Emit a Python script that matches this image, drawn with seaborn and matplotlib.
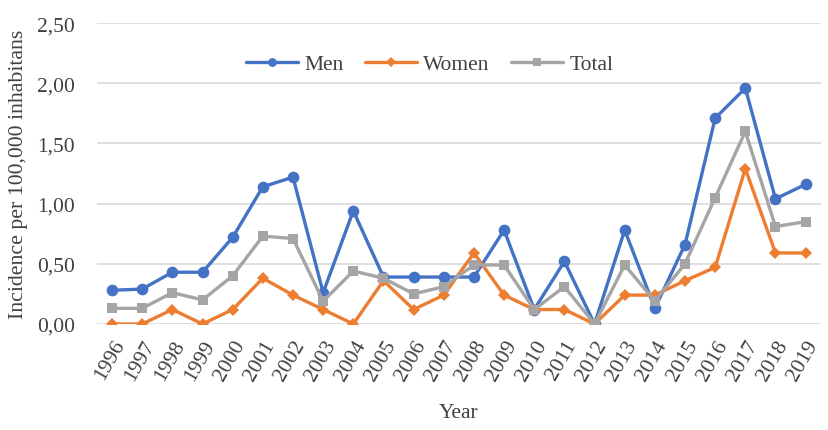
import matplotlib
matplotlib.use("Agg")
from matplotlib import pyplot as plt
from matplotlib.ticker import FuncFormatter
import pandas as pd
import seaborn as sns

years = list(range(1996, 2020))
men = [0.28, 0.29, 0.43, 0.43, 0.72, 1.14, 1.22, 0.26, 0.94, 0.39, 0.39, 0.39,
       0.39, 0.78, 0.12, 0.52, 0.00, 0.78, 0.13, 0.66, 1.71, 1.96, 1.04, 1.16]
women = [0.00, 0.00, 0.12, 0.00, 0.12, 0.38, 0.24, 0.12, 0.00, 0.36, 0.12, 0.24,
         0.59, 0.24, 0.12, 0.12, 0.00, 0.24, 0.24, 0.36, 0.47, 1.29, 0.59, 0.59]
total = [0.13, 0.13, 0.26, 0.20, 0.40, 0.73, 0.71, 0.19, 0.44, 0.38, 0.25, 0.31,
         0.49, 0.49, 0.12, 0.31, 0.00, 0.49, 0.19, 0.50, 1.05, 1.60, 0.81, 0.85]

series = ["Men", "Women", "Total"]
colors = {"Men": "#4472C4", "Women": "#ED7D31", "Total": "#A5A5A5"}
markers = {"Men": "o", "Women": "D", "Total": "s"}
msizes = {"Men": 8.4, "Women": 6.5, "Total": 7.2}

df = pd.DataFrame({"Year": years, "Men": men, "Women": women, "Total": total})
long_df = df.melt(id_vars="Year", var_name="Group", value_name="Incidence")

sns.set_theme(style="white")
plt.rcParams["font.family"] = ["Liberation Serif", "DejaVu Serif"]
text_col = "#404040"

fig = plt.figure(figsize=(8.29, 4.31), dpi=100)
ax = fig.add_axes([0.117, 0.246, 0.873, 0.698])

for name in series:
    sns.lineplot(data=long_df[long_df["Group"] == name], x="Year", y="Incidence",
                 ax=ax, color=colors[name], marker=markers[name],
                 markersize=msizes[name], markeredgewidth=0, linewidth=2.4,
                 label=name)

ax.set_ylim(0, 2.5)
ax.set_yticks([0, 0.5, 1.0, 1.5, 2.0, 2.5])
ax.yaxis.set_major_formatter(FuncFormatter(lambda v, p: f"{v:.2f}".replace(".", ",")))
ax.set_xlim(1995.5, 2019.5)
ax.set_xticks(years)
ax.set_xticklabels([str(y) for y in years], rotation=60, ha="right",
                   rotation_mode="anchor")
ax.yaxis.grid(True, color="#D9D9D9", linewidth=1.2)
ax.set_axisbelow(True)
for s in ax.spines.values():
    s.set_visible(False)
ax.tick_params(axis="y", length=0, pad=16, labelsize=15.5, labelcolor=text_col)
ax.tick_params(axis="x", length=0, pad=9, labelsize=15.5, labelcolor=text_col)

ax.set_xlabel("Year", fontsize=15.5, color=text_col, labelpad=14)
ax.set_ylabel("Incidence per 100,000 inhabitans", fontsize=15.7, color=text_col,
              labelpad=6)

ax.legend(loc="center", bbox_to_anchor=(0.46, 0.864), ncol=3, frameon=False,
          fontsize=15.5, handlelength=2.4, columnspacing=1.0, handletextpad=0.3,
          labelcolor=text_col, markerscale=0.75)

fig.savefig("out.png", dpi=100)
